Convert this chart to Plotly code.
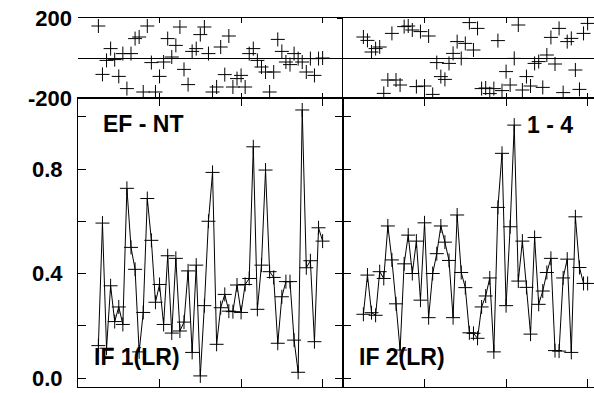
import plotly.graph_objects as go

# ---------------- data ----------------
sample = list(range(1, 57))

if1_lr = [0.124, 0.593, 0.114, 0.353, 0.216, 0.272, 0.205, 0.726, 0.50, 0.416,
          0.10, 0.251, 0.687, 0.527, 0.29, 0.358, 0.205, 0.468, 0.172, 0.458,
          0.18, 0.214, 0.41, 0.098, 0.432, 0.008, 0.277, 0.60, 0.787, 0.129,
          0.269, 0.32, 0.256, 0.254, 0.356, 0.251, 0.358, 0.381, 0.885, 0.263,
          0.432, 0.796, 0.407, 0.385, 0.133, 0.311, 0.369, 0.369, 0.145, 0.022,
          1.026, 0.422, 0.449, 0.139, 0.575, 0.524]

if2_lr = [0.244, 0.394, 0.25, 0.24, 0.407, 0.381, 0.582, 0.452, 0.284, 0.107,
          0.437, 0.547, 0.40, 0.524, 0.298, 0.594, 0.231, 0.40, 0.476, 0.582,
          0.52, 0.45, 0.231, 0.624, 0.404, 0.346, 0.173, 0.171, 0.152, 0.272,
          0.314, 0.383, 0.10, 0.653, 0.86, 0.277, 0.579, 0.968, 0.371, 0.524,
          0.347, 0.168, 0.538, 0.282, 0.333, 0.404, 0.458, 0.105, 0.103, 0.383,
          0.455, 0.098, 0.617, 0.423, 0.362, 0.362]

top_left = [160, -82, -12, 47, -8, -92, 22, -153, 22, 97, 105, -170, 160, -23,
            -170, -92, -20, 97, 5, 63, 155, -57, -133, 33, 47, 117, 155, 22,
            -170, -145, 55, -83, 110, -145, -103, -87, -145, 22, 47, -12, -45,
            -70, -170, -70, 93, 33, -20, -33, 22, -3, -20, -70, -3, -87, -3, 0]

top_right = [105, 88, 30, 47, 55, -177, -110, 123, -110, -135, 157, 160, 140,
             -143, 132, -140, 110, -182, -23, -93, -107, -27, 23, 82, -2, 73,
             177, 40, 148, -153, -150, -178, -153, 87, -163, -68, -135, -2, 165,
             -160, -93, -140, -27, -18, -147, 15, 103, -30, 148, -173, 82, 98,
             -60, -157, 123, 173]

x_ticks = [-4, 16, 36, 56]
y_ticks_bottom = [0.0, 0.2, 0.4, 0.6, 0.8, 1.0]
y_ticktext_bottom = ["0.0", "", "0.4", "", "0.8", ""]
y_ticks_top = [-200, 0, 200]
y_ticktext_top = ["-200", "", "200"]

panel_labels = ["EF - NT", "1 - 4", "IF 1(LR)", "IF 2(LR)"]

# ---------------- figure ----------------
W, H = 594, 393
ML, MR, MT, MB = 78, 0, 18, 6
plot_w = W - ML - MR
plot_h = H - MT - MB
dL = 265 / plot_w          # split between left and right panels
dB = 289 / plot_h          # split between bottom and top panels

FONT = "Liberation Sans"
tickfont = dict(family=FONT, size=22, color="black", weight="bold")

marker = dict(symbol="cross-thin", size=10, color="black",
              line=dict(color="black", width=1))

fig = go.Figure()
fig.add_trace(go.Scatter(x=sample, y=if1_lr, xaxis="x", yaxis="y",
                         mode="lines+markers", line=dict(color="black", width=1),
                         marker=marker))
fig.add_trace(go.Scatter(x=sample, y=if2_lr, xaxis="x2", yaxis="y2",
                         mode="lines+markers", line=dict(color="black", width=1),
                         marker=marker))
fig.add_trace(go.Scatter(x=sample, y=top_left, xaxis="x3", yaxis="y3",
                         mode="markers", marker=marker))
fig.add_trace(go.Scatter(x=sample, y=top_right, xaxis="x4", yaxis="y4",
                         mode="markers", marker=marker))
fig.add_trace(go.Scatter(x=[], y=[], xaxis="x4", yaxis="y5", mode="markers",
                         showlegend=False))

line_common = dict(showline=True, linecolor="black", linewidth=1,
                   showgrid=False, zeroline=False)

xr_left = [-4, 61]
xr_right = [-4, -4 + 251 / (265 / 65)]
yr_bottom = [-0.0344, 1.0718]
yr_top = [-200, 200]

fig.update_layout(
    width=W, height=H,
    margin=dict(l=ML, r=MR, t=MT, b=MB, pad=0, autoexpand=False),
    paper_bgcolor="white", plot_bgcolor="white",
    showlegend=False,
    xaxis=dict(domain=[0, dL], range=xr_left, anchor="y", tickvals=x_ticks,
               ticks="inside", ticklen=8, tickcolor="black", mirror="ticks",
               showticklabels=False, **line_common),
    yaxis=dict(domain=[0, dB], range=yr_bottom, anchor="x",
               tickvals=y_ticks_bottom, ticktext=y_ticktext_bottom,
               ticks="inside", ticklen=8, tickcolor="black", mirror="ticks",
               tickfont=tickfont, ticklabelstandoff=10, **line_common),
    xaxis2=dict(domain=[dL, 1], range=xr_right, anchor="y2", tickvals=x_ticks,
                ticks="inside", ticklen=8, tickcolor="black", mirror="ticks",
                showticklabels=False, **line_common),
    yaxis2=dict(domain=[0, dB], range=yr_bottom, anchor="x2",
                tickvals=y_ticks_bottom, ticks="inside", ticklen=8,
                tickcolor="black", showticklabels=False, **line_common),
    xaxis3=dict(domain=[0, dL], range=xr_left, anchor="y3", tickvals=x_ticks,
                ticks="inside", ticklen=5, tickcolor="black", mirror="ticks",
                showticklabels=False, **line_common),
    yaxis3=dict(domain=[dB, 1], range=yr_top, anchor="x3",
                tickvals=y_ticks_top, ticktext=y_ticktext_top, ticks="",
                tickfont=tickfont, showline=False, showgrid=False,
                zeroline=True, zerolinecolor="black", zerolinewidth=1,
                ticklabelstandoff=5),
    xaxis4=dict(domain=[dL, 1], range=xr_right, anchor="y4", tickvals=x_ticks,
                ticks="inside", ticklen=5, tickcolor="black", mirror="ticks",
                showticklabels=False, **line_common),
    yaxis4=dict(domain=[dB, 1], range=yr_top, anchor="x4",
                tickvals=y_ticks_top, ticks="inside", ticklen=5,
                tickcolor="black", showticklabels=False, showline=True,
                linecolor="black", linewidth=1, showgrid=False,
                zeroline=True, zerolinecolor="black", zerolinewidth=1),
    yaxis5=dict(overlaying="y4", anchor="x4", side="left", range=yr_top,
                tickvals=y_ticks_top, ticks="outside", ticklen=5,
                tickcolor="black", showticklabels=False, showline=False,
                showgrid=False, zeroline=False),
)

ann_font = dict(family=FONT, size=23, color="black", weight="bold")
fig.add_annotation(text=panel_labels[0], xref="x", yref="y", x=1.6, y=0.972,
                   xanchor="left", yanchor="middle", showarrow=False, font=ann_font)
fig.add_annotation(text=panel_labels[1], xref="x2", yref="y2", x=40.6, y=0.968,
                   xanchor="left", yanchor="middle", showarrow=False, font=ann_font)
fig.add_annotation(text=panel_labels[2], xref="x", yref="y", x=-0.6, y=0.082,
                   xanchor="left", yanchor="middle", showarrow=False, font=ann_font)
fig.add_annotation(text=panel_labels[3], xref="x2", yref="y2", x=-0.5, y=0.082,
                   xanchor="left", yanchor="middle", showarrow=False, font=ann_font)

fig.write_html("out.html",
               config={"displayModeBar": False, "staticPlot": True},
               post_script="document.body.style.margin='0px';"
                           "document.body.style.overflow='hidden';")
